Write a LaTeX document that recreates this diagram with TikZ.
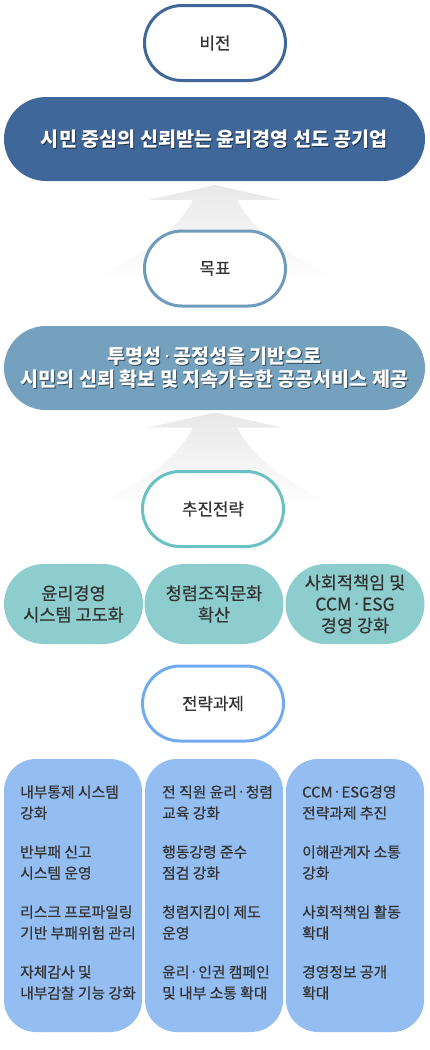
\documentclass[tikz,border=0pt]{standalone}
\usepackage{fontspec}
\setmainfont{Noto Sans CJK KR}
\newfontfamily\medfont{Noto Sans CJK KR}[FakeBold=0.6]
\newfontfamily\latinf{Noto Sans}
\newcommand\mdot{{\latinf\,·\,}}
\definecolor{txt}{HTML}{333333}
\definecolor{visc}{HTML}{40679A}
\definecolor{goalc}{HTML}{74A1BE}
\definecolor{goalb}{HTML}{6F9CBA}
\definecolor{stratb}{HTML}{6BC0C3}
\definecolor{stratf}{HTML}{8ECDCE}
\definecolor{taskb}{HTML}{72AAF0}
\definecolor{taskf}{HTML}{94BDF2}
\definecolor{arrc}{HTML}{E8E8E8}
\tikzset{
  pill/.style={draw, line width=3pt, fill=white, rounded corners=37.5pt,
    minimum width=141pt, minimum height=75pt, inner sep=0pt,
    font=\medfont\fontsize{16.8}{20}\selectfont, text=txt},
  bar/.style={rounded corners=42pt, minimum width=421pt, minimum height=84pt, inner sep=0pt},
  bartext/.style={align=center, text=white, inner sep=0pt,
    font=\bfseries\fontsize{19.6}{23}\selectfont},
  barshadow/.style={bartext, text=black, opacity=0.55},
  soval/.style={fill=stratf, rounded corners=40pt, minimum width=139pt,
    minimum height=80pt, inner sep=0pt, align=center, text=txt,
    font=\medfont\fontsize{17.5}{21.5}\selectfont},
  tcol/.style={fill=taskf, rounded corners=32pt, minimum width=138pt,
    minimum height=273pt, inner sep=0pt},
  item/.style={anchor=west, align=left, inner sep=0pt, text=txt,
    font=\medfont\fontsize{14.8}{21}\selectfont},
  upshape/.style={top color=arrc, middle color=arrc!85, bottom color=white}
}
\begin{document}
\begin{tikzpicture}[x=1pt,y=-1pt]
\useasboundingbox (0,0) rectangle (430,1050);
% fan arrows
\shade[upshape] (215,185) -- (282,200) -- (237,200)
  .. controls (255,235) and (298,262) .. (342,279) -- (88,279)
  .. controls (132,262) and (175,235) .. (193,200) -- (148,200) -- cycle;
\shade[upshape] (215,412.5) -- (282,427.5) -- (237,427.5)
  .. controls (255,462.5) and (298,489.5) .. (342,506.5) -- (88,506.5)
  .. controls (132,489.5) and (175,462.5) .. (193,427.5) -- (148,427.5) -- cycle;
% vision
\node[pill, draw=visc] (vis) at (215,43) {비전};
\node[bar, fill=visc] (vbar) at (214.5,139) {};
\node[barshadow] at ([xshift=1pt,yshift=-1pt]vbar.center) {시민 중심의 신뢰받는 윤리경영 선도 공기업};
\node[bartext] (vtxt) at (vbar.center) {시민 중심의 신뢰받는 윤리경영 선도 공기업};
% goal
\node[pill, draw=goalb] (goal) at (215,268.5) {목표};
\node[bar, fill=goalc] (gbar) at (214.5,368) {};
\node[barshadow] at ([xshift=1pt,yshift=-1pt]gbar.center) {투명성\mdot 공정성을 기반으로\\시민의 신뢰 확보 및 지속가능한 공공서비스 제공};
\node[bartext] (gtxt) at (gbar.center) {투명성\mdot 공정성을 기반으로\\시민의 신뢰 확보 및 지속가능한 공공서비스 제공};
% strategy
\node[pill, draw=stratb] (strat) at (213,509) {추진전략};
\node[soval] (s1) at (73.5,604) {윤리경영\\시스템 고도화};
\node[soval] (s2) at (214,604) {청렴조직문화\\확산};
\node[soval] (s3) at (355,604) {사회적책임 및\\CCM\mdot ESG\\경영 강화};
% tasks
\node[pill, draw=taskb] (task) at (213,703.5) {전략과제};
\node[tcol] (c1) at (73,895.5) {};
\node[tcol] (c2) at (214,895.5) {};
\node[tcol] (c3) at (355,895.5) {};
\node[item] (a1) at (20,802.5) {내부통제 시스템\\강화};
\node[item] (a2) at (20,862.5) {반부패 신고\\시스템 운영};
\node[item] (a3) at (20,922.5) {리스크 프로파일링\\기반 부패위험 관리};
\node[item] (a4) at (20,982.5) {자체감사 및\\내부감찰 기능 강화};
\node[item] (b1) at (162,802.5) {전 직원 윤리\mdot 청렴\\교육 강화};
\node[item] (b2) at (162,862.5) {행동강령 준수\\점검 강화};
\node[item] (b3) at (162,922.5) {청렴지킴이 제도\\운영};
\node[item] (b4) at (162,982.5) {윤리\mdot 인권 캠페인\\및 내부 소통 확대};
\node[item] (d1) at (302,802.5) {CCM\mdot ESG경영\\전략과제 추진};
\node[item] (d2) at (302,862.5) {이해관계자 소통\\강화};
\node[item] (d3) at (302,922.5) {사회적책임 활동\\확대};
\node[item] (d4) at (302,982.5) {경영정보 공개\\확대};
\end{tikzpicture}
\end{document}
